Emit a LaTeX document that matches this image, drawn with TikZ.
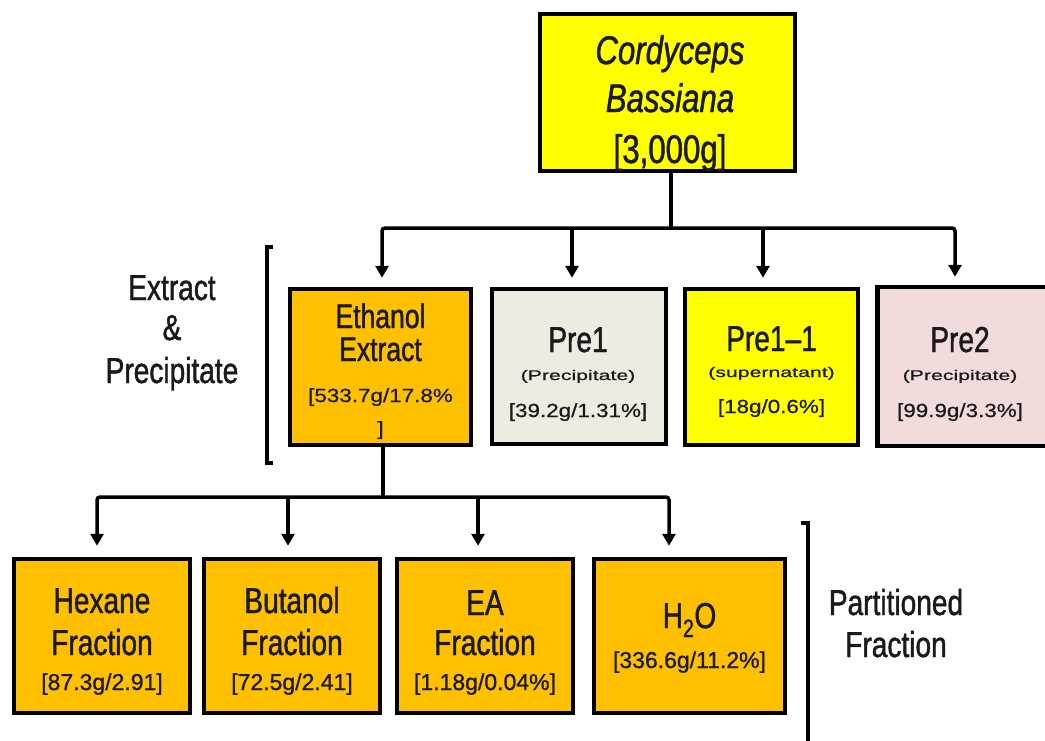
\documentclass[tikz,border=0pt]{standalone}
\usepackage{fontspec}
\setmainfont[FakeStretch=0.78,FakeBold=1.2]{Liberation Sans}
\newfontfamily\numfont[FakeStretch=1.18,FakeBold=0.8]{Liberation Sans}
\newfontfamily\notefont[FakeStretch=1.52,FakeBold=0.8]{Liberation Sans}
\newfontfamily\plainfont[FakeBold=1]{Liberation Sans}
\usetikzlibrary{arrows.meta}

\definecolor{ink}{HTML}{1A1A1A}
\definecolor{lemon}{HTML}{FFFF00}
\definecolor{amber}{HTML}{FFC000}
\definecolor{stone}{HTML}{EEECE1}
\definecolor{blush}{HTML}{F2DCDB}

\newcommand{\fs}[2]{\fontsize{#1}{#2}\selectfont\lineskiplimit=-100pt\relax}

\begin{document}
\begin{tikzpicture}[x=1pt,y=-1pt,
  box/.style={draw=black, line width=4.5pt, rectangle, inner sep=0pt},
  label/.style={align=center, inner sep=0pt, text=ink, anchor=base},
  link/.style={draw=black, line width=3.5pt, rounded corners=3pt},
  arr/.style={-{Triangle[length=12pt,width=13pt]}},
  brk/.style={draw=black, line width=3.5pt}]

\useasboundingbox (0,0) rectangle (1045,740);
\clip (0,0) rectangle (1045,740);
\fill[white] (0,0) rectangle (1045,740);

% source material (labels are placed by the baseline of their last line)
\node[box, fill=lemon, minimum width=255pt, minimum height=157pt] (top) at (667.5,92.5) {};
\node[label, font=\fs{40}{48}] (toptext) at (670,163)
  {\itshape Cordyceps\\\itshape Bassiana\\[3pt]{}[3,000g]};

% extracts and precipitates
\node[box, fill=amber, minimum width=181pt, minimum height=156pt] (eth) at (380.5,367) {};
\node[box, fill=stone, minimum width=174pt, minimum height=155pt] (pre1) at (579,366.5) {};
\node[box, fill=lemon, minimum width=173pt, minimum height=156pt] (pre11) at (771.5,367) {};
\node[box, fill=blush, minimum width=181pt, minimum height=159pt] (pre2) at (967.75,366.5) {};

\node[label, font=\fs{34}{33}] (ethtext) at (380.5,435)
  {Ethanol\\Extract\\[8pt]{\numfont\fs{19}{19}[533.7g/17.8\%}\\{\numfont\fs{19}{19}]}};
\node[label, font=\fs{36}{28}] (pre1text) at (578,417)
  {Pre1\\{\notefont\fs{14}{14}(Precipitate)}\\[9pt]{\numfont\fs{19}{19}[39.2g/1.31\%]}};
\node[label, font=\fs{36}{26}] (pre11text) at (771.5,413)
  {Pre1--1\\{\notefont\fs{14}{14}(supernatant)}\\[10pt]{\numfont\fs{19}{19}[18g/0.6\%]}};
\node[label, font=\fs{36}{28}] (pre2text) at (960,417)
  {Pre2\\{\notefont\fs{14}{14}(Precipitate)}\\[9pt]{\numfont\fs{19}{19}[99.9g/3.3\%]}};

% partitioned fractions
\node[box, fill=amber, minimum width=176pt, minimum height=154pt] (hex) at (102,636) {};
\node[box, fill=amber, minimum width=176pt, minimum height=154pt] (but) at (292,636) {};
\node[box, fill=amber, minimum width=176pt, minimum height=154pt] (ea) at (485,636) {};
\node[box, fill=amber, minimum width=191pt, minimum height=154pt] (h2o) at (689.5,636) {};

\node[label, font=\fs{36}{42}] (hextext) at (102,690)
  {Hexane\\Fraction\\[-7pt]{\plainfont\fs{23}{23}[87.3g/2.91]}};
\node[label, font=\fs{36}{42}] (buttext) at (292,690)
  {Butanol\\Fraction\\[-7pt]{\plainfont\fs{23}{23}[72.5g/2.41]}};
\node[label, font=\fs{36}{40}] (eatext) at (485,690)
  {EA\\Fraction\\[-5pt]{\plainfont\fs{23}{23}[1.18g/0.04\%]}};
\node[label, font=\fs{36}{40}] (h2otext) at (689.5,668)
  {H\textsubscript{2}O\\{\plainfont\fs{23}{23}[336.6g/11.2\%]}};

% group labels
\node[label, font=\fs{36}{40}] (grp1) at (172,383) {Extract\\\&\\[3pt]Precipitate};
\node[label, font=\fs{36}{42}] (grp2) at (896,657) {Partitioned\\Fraction};

% brackets
\draw[brk] (273,247) -- (267,247) -- (267,463) -- (273,463);
\draw[brk] (801,523) -- (808,523) -- (808,760);

% first split
\coordinate (j1) at (671,228);
\coordinate (c1) at (382,228);
\coordinate (c2) at (572,228);
\coordinate (c3) at (763,228);
\coordinate (c4) at (955,228);
\draw[link] (top.south -| j1) -- (j1);
\draw[link, arr, shorten >=9pt] (j1) -- (c1) -- (c1 |- eth.north);
\draw[link, arr, shorten >=8pt] (j1) -- (c4) -- (c4 |- pre2.north);
\draw[link, arr, shorten >=9pt] (c2) -- (c2 |- pre1.north);
\draw[link, arr, shorten >=9pt] (c3) -- (c3 |- pre11.north);

% second split
\coordinate (j2) at (383,497);
\coordinate (d1) at (97,497);
\coordinate (d2) at (288,497);
\coordinate (d3) at (478,497);
\coordinate (d4) at (669,497);
\draw[link] (eth.south -| j2) -- (j2);
\draw[link, arr, shorten >=11pt] (j2) -- (d1) -- (d1 |- hex.north);
\draw[link, arr, shorten >=11pt] (j2) -- (d4) -- (d4 |- h2o.north);
\draw[link, arr, shorten >=11pt] (d2) -- (d2 |- but.north);
\draw[link, arr, shorten >=11pt] (d3) -- (d3 |- ea.north);
\end{tikzpicture}
\end{document}
